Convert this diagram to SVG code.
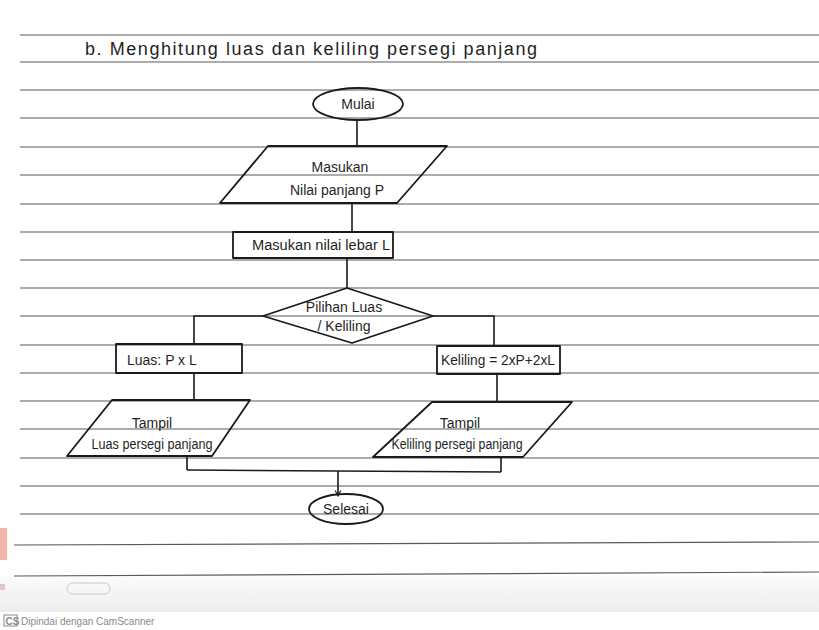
<svg xmlns="http://www.w3.org/2000/svg" width="819" height="630" viewBox="0 0 819 630">
<style>
  .paper { stroke: #5a5a5a; stroke-width: 1.2; fill: none; }
  .shape { stroke: #1a1a1a; stroke-width: 1.8; fill: none; stroke-linejoin: round; }
  .conn { stroke: #1a1a1a; stroke-width: 1.6; fill: none; }
  .hand { font-family: "Liberation Sans", "DejaVu Sans", sans-serif; font-size: 14px; fill: #1f1f1f; }
  .title { font-family: "Liberation Sans", "DejaVu Sans", sans-serif; font-size: 18px; fill: #1f1f1f; }
  .foot { font-family: "Liberation Sans", sans-serif; font-size: 10px; fill: #8a8a8a; }
</style>
<defs>
  <marker id="arrow" viewBox="0 0 10 10" refX="9" refY="5" markerWidth="7" markerHeight="7" orient="auto" markerUnits="userSpaceOnUse">
    <path d="M1 1 L9 5 L1 9" fill="none" stroke="#1a1a1a" stroke-width="1.6"/>
  </marker>
  <linearGradient id="shade" x1="0" y1="0" x2="0" y2="1">
    <stop offset="0" stop-color="#fbfbfb"/>
    <stop offset="1" stop-color="#ededed"/>
  </linearGradient>
</defs>
<rect x="0" y="0" width="819" height="630" fill="#ffffff"/>
<rect x="0" y="576" width="819" height="36" fill="url(#shade)"/>
<rect x="0" y="528" width="7" height="32" fill="#f0b6aa"/>
<rect x="0" y="584" width="5" height="6" fill="#e3c9c6"/>

<g id="paper-lines">
  <line class="paper" x1="20" y1="35" x2="819" y2="35"/>
  <line class="paper" x1="20" y1="62" x2="819" y2="62"/>
  <line class="paper" x1="20" y1="90" x2="819" y2="90"/>
  <line class="paper" x1="20" y1="118" x2="819" y2="118"/>
  <line class="paper" x1="20" y1="147" x2="819" y2="147"/>
  <line class="paper" x1="20" y1="175" x2="819" y2="175"/>
  <line class="paper" x1="20" y1="204" x2="819" y2="204"/>
  <line class="paper" x1="20" y1="232" x2="819" y2="232"/>
  <line class="paper" x1="20" y1="260" x2="819" y2="260"/>
  <line class="paper" x1="20" y1="288" x2="819" y2="288"/>
  <line class="paper" x1="20" y1="316" x2="819" y2="316"/>
  <line class="paper" x1="20" y1="345" x2="819" y2="345"/>
  <line class="paper" x1="20" y1="373" x2="819" y2="373"/>
  <line class="paper" x1="20" y1="401" x2="819" y2="401"/>
  <line class="paper" x1="20" y1="429" x2="819" y2="429"/>
  <line class="paper" x1="20" y1="458" x2="819" y2="458"/>
  <line class="paper" x1="20" y1="486" x2="819" y2="486"/>
  <line class="paper" x1="20" y1="514" x2="819" y2="514"/>
  <line class="paper" x1="14" y1="545" x2="819" y2="542"/>
  <line class="paper" x1="14" y1="576" x2="819" y2="572" stroke-width="1.5"/>
</g>

<text class="title" x="85" y="55" textLength="452" lengthAdjust="spacing">b.  Menghitung luas dan keliling persegi panjang</text>

<g id="connectors">
  <path class="conn" d="M357 120 V146"/>
  <path class="conn" d="M352 203 V232"/>
  <path class="conn" d="M347 258 V288"/>
  <path class="conn" d="M263 316 H194 V344"/>
  <path class="conn" d="M433 316 H494 V346"/>
  <path class="conn" d="M194 373 V400"/>
  <path class="conn" d="M497 374 V402"/>
  <path class="conn" d="M187 456 V470"/>
  <path class="conn" d="M501 457 V472"/>
  <path class="conn" d="M187 470 L501 472"/>
  <path class="conn" d="M338 471 V496" marker-end="url(#arrow)"/>
</g>

<g id="mulai">
  <ellipse class="shape" cx="358" cy="104" rx="45" ry="16"/>
  <text class="hand" x="358" y="109" text-anchor="middle">Mulai</text>
</g>

<g id="input-panjang">
  <polygon class="shape" points="268,146 447,146 397,203 220,203"/>
  <text class="hand" x="340" y="172" text-anchor="middle">Masukan</text>
  <text class="hand" x="337" y="195" text-anchor="middle">Nilai panjang P</text>
</g>

<g id="input-lebar">
  <rect class="shape" x="233" y="232" width="160" height="26"/>
  <text class="hand" x="252" y="250" textLength="138" lengthAdjust="spacingAndGlyphs">Masukan nilai lebar L</text>
</g>

<g id="pilihan">
  <polygon class="shape" points="347,288 433,316 352,343 263,316"/>
  <text class="hand" x="344" y="312" text-anchor="middle">Pilihan Luas</text>
  <text class="hand" x="344" y="331" text-anchor="middle">/ Keliling</text>
</g>

<g id="luas">
  <rect class="shape" x="116" y="344" width="126" height="29"/>
  <text class="hand" x="127" y="365">Luas: P x L</text>
</g>

<g id="keliling">
  <rect class="shape" x="437" y="346" width="123" height="28"/>
  <text class="hand" x="441" y="365" textLength="114" lengthAdjust="spacingAndGlyphs">Keliling = 2xP+2xL</text>
</g>

<g id="tampil-luas">
  <polygon class="shape" points="112,400 250,400 212,456 67,456"/>
  <text class="hand" x="152" y="428" text-anchor="middle">Tampil</text>
  <text class="hand" x="152" y="449" text-anchor="middle" textLength="121" lengthAdjust="spacingAndGlyphs">Luas persegi panjang</text>
</g>

<g id="tampil-keliling">
  <polygon class="shape" points="432,402 572,402 523,457 373,457"/>
  <text class="hand" x="460" y="428" text-anchor="middle">Tampil</text>
  <text class="hand" x="457" y="449" text-anchor="middle" textLength="131" lengthAdjust="spacingAndGlyphs">Keliling persegi panjang</text>
</g>

<g id="selesai">
  <ellipse class="shape" cx="346" cy="509" rx="37" ry="15"/>
  <text class="hand" x="346" y="514" text-anchor="middle">Selesai</text>
</g>

<rect x="67" y="583" width="43" height="11" rx="5.5" fill="none" stroke="#c8c8c8" stroke-width="1"/>

<rect x="4" y="615" width="13" height="11" fill="none" stroke="#8a8a8a" stroke-width="1"/>
<text class="foot" x="5.5" y="624.5" font-size="8" font-weight="bold">CS</text>
<text class="foot" x="21" y="625">Dipindai dengan CamScanner</text>
</svg>
